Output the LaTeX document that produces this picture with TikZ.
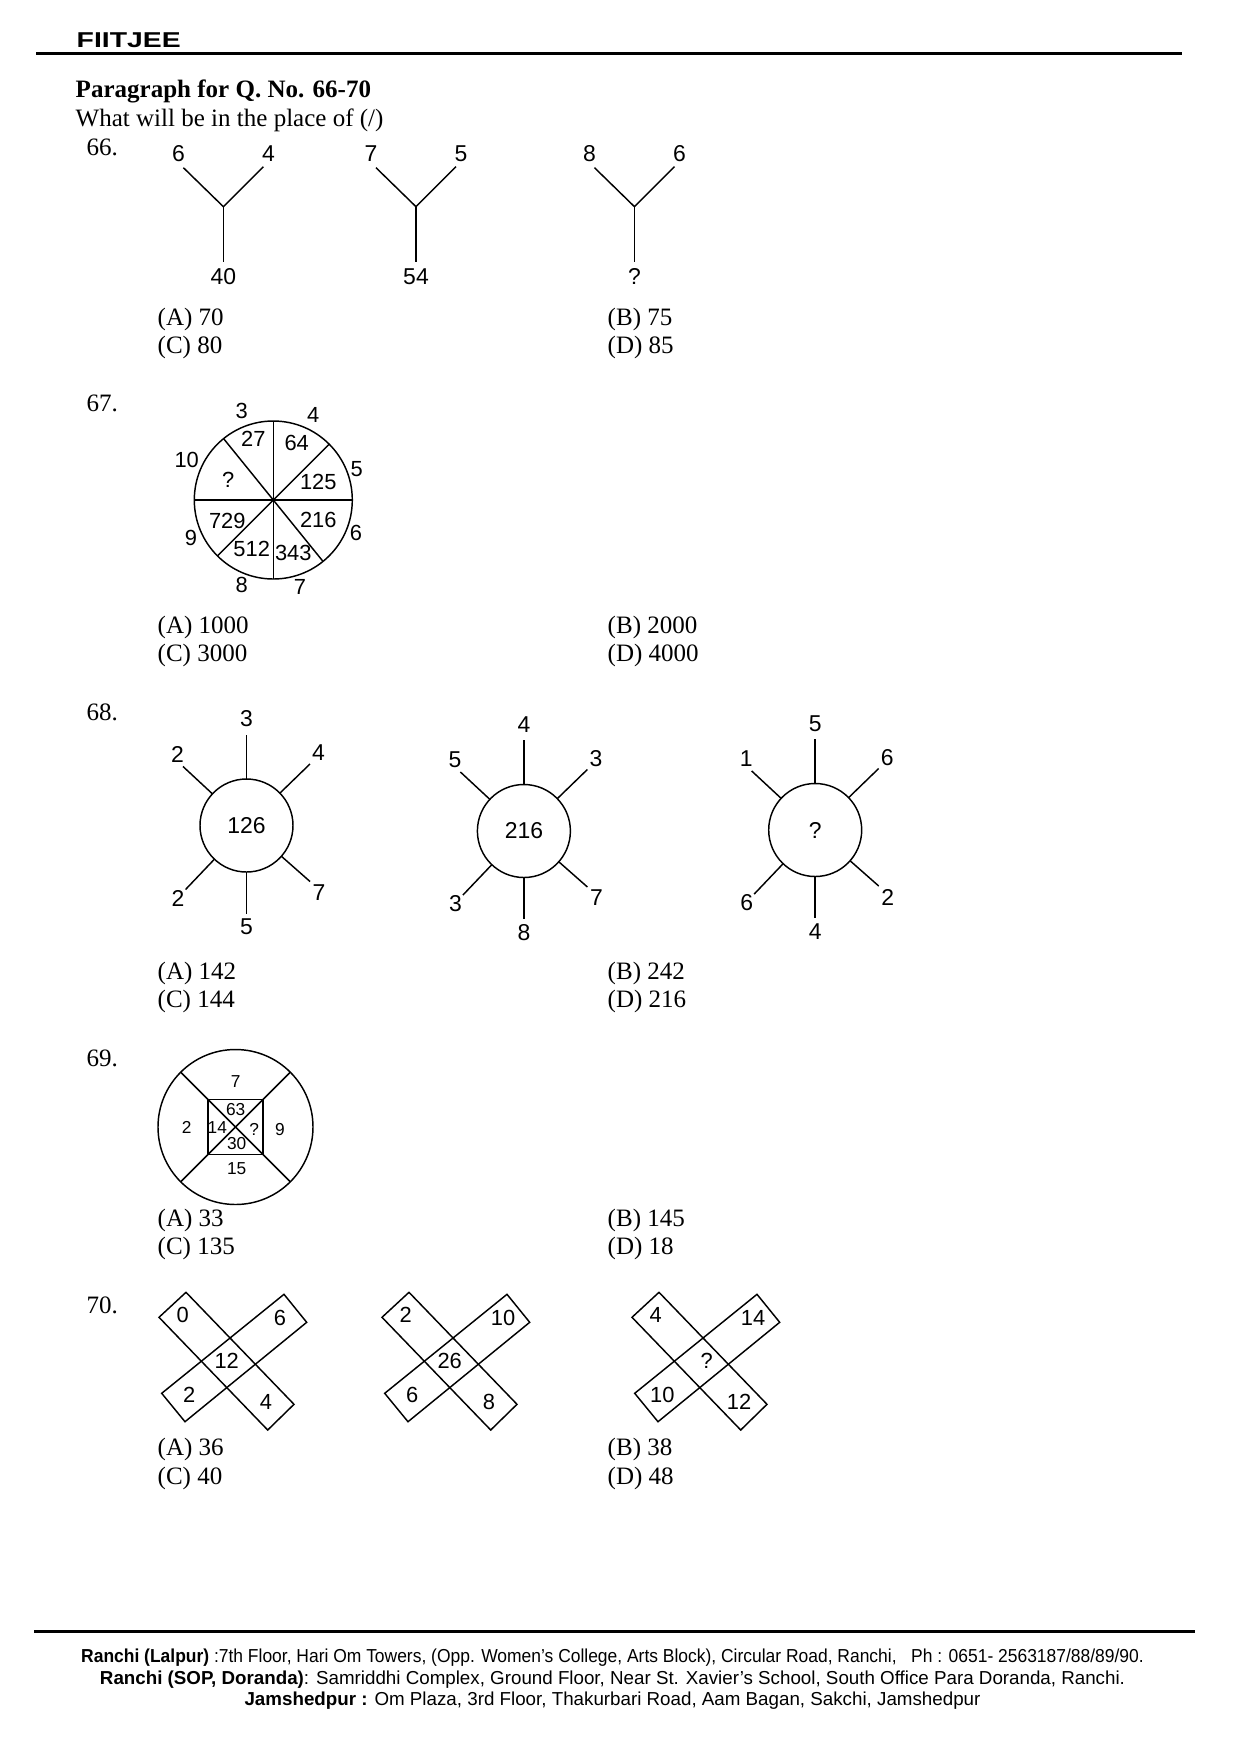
\documentclass[tikz,border=0pt]{standalone}
\usepackage{fontspec}
\setmainfont{Liberation Serif}
\setsansfont{Liberation Sans}
\usetikzlibrary{calc}
\begin{document}
\begin{tikzpicture}[x=0.47968pt,y=-0.47968pt,
  line width=0.7pt,
  txt/.style={anchor=base west, inner sep=0pt, font=\fontsize{12}{14}\selectfont},
  lbl/.style={inner sep=0pt, font=\sffamily\fontsize{11}{13}\selectfont},
  lblc/.style={inner sep=0pt, font=\sffamily\fontsize{10.5}{12}\selectfont},
  lbls/.style={inner sep=0pt, font=\sffamily\fontsize{8.3}{10}\selectfont},
  foot/.style={anchor=base, inner sep=0pt, font=\sffamily\fontsize{9}{11}\selectfont},
  rulel/.style={line width=1.44pt}]
\useasboundingbox (0,0) rectangle (1241,1754);
\fill[white] (0,0) rectangle (1241,1754);

% ---------- header ----------
\node[anchor=base west, inner sep=0pt, font=\sffamily\bfseries\fontsize{10.3}{12}\selectfont] (logo) at (76,47.7) {\scalebox{1.32}[1]{FIITJEE}};
\coordinate (hl) at (36,53.3);
\coordinate (hr) at (1182,53.3);
\draw[rulel] (hl) -- (hr);

\node[txt, font=\bfseries\fontsize{12}{14}\selectfont] (para) at (75,97.7) {Paragraph for Q. No. 66-70};
\node[txt] (what) at (75,126) {What will be in the place of (/)};

% ---------- Q66 ----------
\node[txt] (q66) at (86,155) {66.};
\foreach \jx/\a/\b/\c [count=\i] in {223.4/6/4/40,416/7/5/54,634.5/8/6/?}{
  \coordinate (y\i) at (\jx,206.7);
  \draw ([shift={(-40,-39)}]y\i) -- (y\i) -- ([shift={(40,-40)}]y\i);
  \draw (y\i) -- ([shift={(0,55)}]y\i);
  \node[lbl] (y\i a) at ([shift={(-45,-52.7)}]y\i) {\a};
  \node[lbl] (y\i b) at ([shift={(45,-52.7)}]y\i) {\b};
  \node[lbl] (y\i c) at ([shift={(0,70)}]y\i) {\c};
}
\node[txt] (o66a) at (157,325) {(A) 70};
\node[txt] (o66c) at (157,353) {(C) 80};
\node[txt] (o66b) at (607,325) {(B) 75};
\node[txt] (o66d) at (607,353) {(D) 85};

% ---------- Q67 ----------
\node[txt] (q67) at (86,411.7) {67.};
\coordinate (c67) at (273.3,500);
\draw (c67) circle (79);
\foreach \ang in {90,0,51,135}{
  \draw ($(c67)+(\ang:79)$) -- ($(c67)+(\ang+180:79)$);
}
\foreach \px/\py/\t [count=\i] in {241.7/410.7/3,313.3/415/4,186.7/460/10,356.7/469.3/5,191/538.3/9,356/532.7/6,241.7/585/8,300/586.7/7,
  253.3/439.3/27,296.7/443.3/64,228.3/480/?,318.3/482.3/125,227.3/520.7/729,318.3/520/216,251.7/549.3/512,293.3/553.3/343}{
  \node[lblc] (w\i) at (\px,\py) {\t};
}
\node[txt] (o67a) at (157,633.3) {(A) 1000};
\node[txt] (o67c) at (157,661.7) {(C) 3000};
\node[txt] (o67b) at (607,633.3) {(B) 2000};
\node[txt] (o67d) at (607,661.7) {(D) 4000};

% ---------- Q68 ----------
\node[txt] (q68) at (86,720.6) {68.};
\foreach \cx/\cy/\m/\ta/\tb/\tc/\td/\te/\tf [count=\i] in
  {246.5/825.5/126/3/2/4/2/7/5, 523.9/831/216/4/5/3/3/7/8, 815.2/830/?/5/1/6/6/2/4}{
  \node[circle, draw, minimum size=93*0.47968pt, inner sep=0pt, font=\sffamily\fontsize{11}{13}\selectfont] (s\i) at (\cx,\cy) {\m};
  \draw ($(s\i.center)+(270:46.5)$) -- ($(s\i.center)+(270:91)$);
  \draw ($(s\i.center)+(222.9:46.5)$) -- ($(s\i.center)+(222.9:86.7)$);
  \draw ($(s\i.center)+(315.9:46.5)$) -- ($(s\i.center)+(315.9:88.4)$);
  \draw ($(s\i.center)+(133.6:46.5)$) -- ($(s\i.center)+(133.6:88.4)$);
  \draw ($(s\i.center)+(41.4:46.5)$) -- ($(s\i.center)+(41.4:84.7)$);
  \draw ($(s\i.center)+(90:46.5)$) -- ($(s\i.center)+(90:88)$);
  \node[lbl] (s\i a) at ([shift={(0,-106.5)}]s\i.center) {\ta};
  \node[lbl] (s\i b) at ([shift={(-69,-71.5)}]s\i.center) {\tb};
  \node[lbl] (s\i c) at ([shift={(72,-72.5)}]s\i.center) {\tc};
  \node[lbl] (s\i d) at ([shift={(-68.5,73)}]s\i.center) {\td};
  \node[lbl] (s\i e) at ([shift={(72.5,67)}]s\i.center) {\te};
  \node[lbl] (s\i f) at ([shift={(0,101.5)}]s\i.center) {\tf};
}
\node[txt] (o68a) at (157,979) {(A) 142};
\node[txt] (o68c) at (157,1007.5) {(C) 144};
\node[txt] (o68b) at (607,979) {(B) 242};
\node[txt] (o68d) at (607,1007.5) {(D) 216};

% ---------- Q69 ----------
\node[txt] (q69) at (86,1066.4) {69.};
\coordinate (c69) at (235.5,1127);
\draw (c69) circle (77.5);
\draw ([shift={(-27.5,-27.5)}]c69) rectangle ([shift={(27.5,27.5)}]c69);
\draw ($(c69)+(225:77.5)$) -- ($(c69)+(45:77.5)$);
\draw ($(c69)+(315:77.5)$) -- ($(c69)+(135:77.5)$);
\node[lbls] (k1) at (235.7,1081.7) {7};
\node[lbls] (k2) at (186.7,1127.3) {2};
\node[lbls] (k3) at (280,1130) {9};
\node[lbls] (k4) at (236.7,1168.3) {15};
\node[lbls] (k5) at (235.7,1109.3) {63};
\node[lbls] (k6) at (217.3,1127.3) {14};
\node[lbls] (k7) at (254.3,1129.3) {?};
\node[lbls] (k8) at (236.7,1143.3) {30};
\node[txt] (o69a) at (157,1226.4) {(A) 33};
\node[txt] (o69c) at (157,1254.4) {(C) 135};
\node[txt] (o69b) at (607,1226.4) {(B) 145};
\node[txt] (o69d) at (607,1254.4) {(D) 18};

% ---------- Q70 ----------
\node[txt] (q70) at (86,1313.6) {70.};
\foreach \dx/\ta/\tb/\tc/\td/\te/\mx [count=\i] in {0/0/6/12/2/4/226.7, 223/2/10/26/6/8/226.7, 473/4/14/?/10/12/233.7}{
  \begin{scope}[shift={(\dx,0)}]
    \draw (186,1292.3) -- (294,1404.3) -- (267.7,1430) -- (159,1317.3) -- cycle;
    \draw (284,1294.3) -- (306.7,1322.3) -- (185,1421.7) -- (161.7,1393.3) -- cycle;
    \node[lblc] (x\i a) at (182.7,1315) {\ta};
    \node[lblc] (x\i b) at (280,1318.3) {\tb};
    \node[lblc] (x\i c) at (\mx,1361) {\tc};
    \node[lblc] (x\i d) at (189.3,1395) {\td};
    \node[lblc] (x\i e) at (266,1401.7) {\te};
  \end{scope}
}
\node[txt] (o70a) at (157,1455.8) {(A) 36};
\node[txt] (o70c) at (157,1484.8) {(C) 40};
\node[txt] (o70b) at (607,1455.8) {(B) 38};
\node[txt] (o70d) at (607,1484.8) {(D) 48};

% ---------- footer ----------
\coordinate (fl) at (34,1631.7);
\coordinate (fr) at (1195,1631.7);
\draw[rulel] (fl) -- (fr);
\node[foot] (f1) at (612.5,1662) {\scalebox{0.93}[1]{\textbf{Ranchi (Lalpur)} :7th Floor, Hari Om Towers, (Opp. Women’s College, Arts Block), Circular Road, Ranchi,\ \ \ Ph : 0651- 2563187/88/89/90.}};
\node[foot] (f2) at (612.5,1684) {\textbf{Ranchi (SOP, Doranda)}: Samriddhi Complex, Ground Floor, Near St. Xavier’s School, South Office Para Doranda, Ranchi.};
\node[foot] (f3) at (612.5,1705) {\textbf{Jamshedpur :} Om Plaza, 3rd Floor, Thakurbari Road, Aam Bagan, Sakchi, Jamshedpur};
\end{tikzpicture}
\end{document}
